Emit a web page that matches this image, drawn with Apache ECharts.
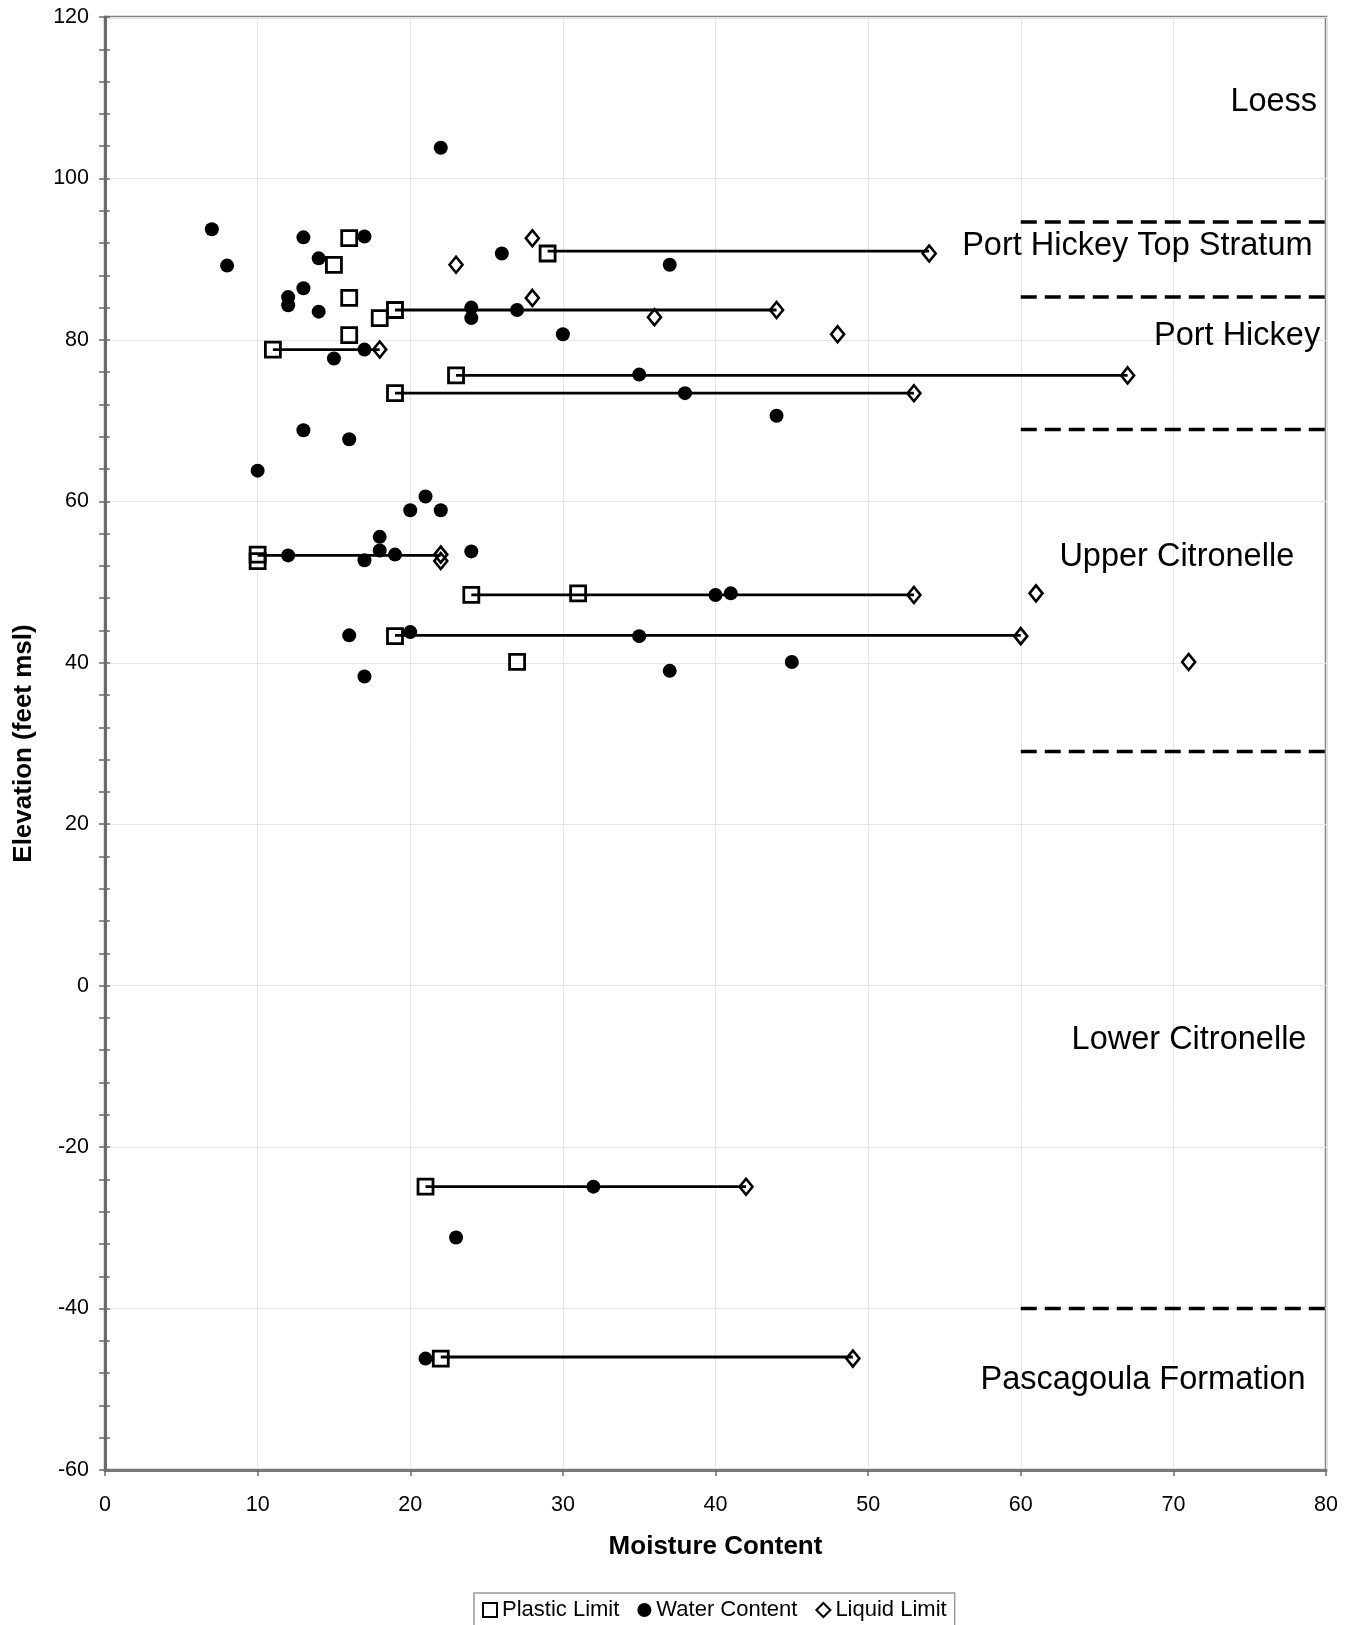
<!DOCTYPE html>
<html>
<head>
<meta charset="utf-8">
<title>Moisture Content vs Elevation</title>
<script src="https://cdn.jsdelivr.net/npm/echarts@6.0.0/dist/echarts.min.js"></script>
<style>
  html, body { margin: 0; padding: 0; background: #fff; }
  #chart { width: 1356px; height: 1625px; }
</style>
</head>
<body>
<div id="chart"></div>
<script>
// Atterberg limits and natural water content by elevation: [moisture %, elevation ft msl]
const plasticLimit = [
  [16, 92.6], [15, 89.3], [29, 90.7], [16, 85.2], [18, 82.7], [19, 83.7],
  [16, 80.6], [11, 78.8], [23, 75.6], [19, 73.4], [10, 53.4], [10, 52.6],
  [24, 48.4], [31, 48.6], [19, 43.3], [27, 40.1], [21, -24.9], [22, -46.2]
];
const waterContent = [
  [22, 103.8], [7, 93.7], [8, 89.2], [13, 92.7], [17, 92.8], [14, 90.1],
  [26, 90.7], [37, 89.3], [13, 86.4], [12, 85.3], [12, 84.3], [14, 83.5],
  [24, 84.0], [24, 82.7], [27, 83.7], [30, 80.7], [17, 78.8], [15, 77.7],
  [35, 75.7], [38, 73.4], [44, 70.6], [13, 68.8], [16, 67.7], [10, 63.8],
  [21, 60.6], [20, 58.9], [22, 58.9], [18, 55.6], [18, 53.9], [12, 53.3],
  [19, 53.4], [24, 53.8], [17, 52.7], [40, 48.4], [41, 48.6], [16, 43.4],
  [20, 43.8], [35, 43.3], [37, 39.0], [45, 40.1], [17, 38.3], [32, -24.9],
  [23, -31.2], [21, -46.2]
];
const liquidLimit = [
  [28, 92.6], [23, 89.3], [54, 90.7], [28, 85.2], [44, 83.7], [36, 82.8],
  [48, 80.7], [18, 78.8], [67, 75.6], [53, 73.4], [22, 53.4], [22, 52.6],
  [53, 48.4], [61, 48.6], [60, 43.3], [71, 40.1], [42, -24.9], [49, -46.2]
];
// Plasticity range bars: [plastic limit, liquid limit, elevation]
const limitRanges = [
  [29, 54, 91.0], [19, 44, 83.7], [11, 18, 78.8], [23, 67, 75.6],
  [19, 53, 73.4], [10, 22, 53.3], [24, 53, 48.4], [19, 60, 43.4],
  [21, 42, -24.9], [22, 49, -46.0]
];
// Stratum boundaries (elevation) drawn between these moisture values
const boundaryElevations = [94.6, 85.3, 68.9, 29.0, -40.0];
const boundarySpan = [60, 80];
// Stratum names with the point their text ends at: [moisture, elevation, name]
const strata = [
  [79.45, 109.45, 'Loess'],
  [79.15, 91.6, 'Port Hickey Top Stratum'],
  [79.65, 80.45, 'Port Hickey'],
  [77.95, 53.15, 'Upper Citronelle'],
  [78.75, -6.75, 'Lower Citronelle'],
  [78.7, -48.9, 'Pascagoula Formation']
];
const xTicks = { min: 0, max: 80, interval: 10 };
const yTicks = { min: -60, max: 120, interval: 20 };

const FONT = '"Liberation Sans", Arial, sans-serif';
const chart = echarts.init(document.getElementById('chart'), null, { renderer: 'canvas' });

const series = [
  {
    name: 'Plastic Limit', type: 'scatter', data: plasticLimit,
    symbol: 'rect', symbolSize: 15, z: 3,
    itemStyle: { color: 'rgba(255,255,255,0)', borderColor: '#000', borderWidth: 2.8, opacity: 1 }
  },
  {
    name: 'Water Content', type: 'scatter', data: waterContent,
    symbol: 'circle', symbolSize: 14, z: 3,
    itemStyle: { color: '#000', opacity: 1 }
  },
  {
    name: 'Liquid Limit', type: 'scatter', data: liquidLimit,
    symbol: 'diamond', symbolSize: [13, 16], z: 3,
    itemStyle: { color: 'rgba(255,255,255,0)', borderColor: '#000', borderWidth: 2.6, opacity: 1 }
  }
];

limitRanges.forEach(function (r, i) {
  series.push({
    name: 'range' + i, type: 'line', z: 4,
    data: [[r[0], r[2]], [r[1], r[2]]],
    symbol: 'none', silent: true,
    lineStyle: { color: '#000', width: 2.8, opacity: 1 }
  });
});

boundaryElevations.forEach(function (e, i) {
  series.push({
    name: 'boundary' + i, type: 'line', z: 2,
    data: [[boundarySpan[0], e], [boundarySpan[1], e]],
    symbol: 'none', silent: true,
    lineStyle: { color: '#000', width: 3.5, type: [16, 8], opacity: 1 }
  });
});

series.push({
  name: 'strata', type: 'scatter', z: 5, silent: true,
  data: strata, symbolSize: 1,
  itemStyle: { color: 'rgba(0,0,0,0)', opacity: 1 },
  label: {
    show: true, position: 'left', distance: 0,
    formatter: function (p) { return p.value[2]; },
    fontFamily: FONT, fontSize: 32.5, color: '#000', opacity: 1
  }
});

const option = {
  backgroundColor: '#fff',
  animation: false,
  textStyle: { fontFamily: FONT },
  grid: {
    left: 105, right: 30, top: 17, bottom: 155,
    show: true, borderColor: '#808080', borderWidth: 2.5, backgroundColor: 'transparent'
  },
  legend: {
    data: [
      { name: 'Plastic Limit', icon: 'rect' },
      { name: 'Water Content', icon: 'circle' },
      { name: 'Liquid Limit', icon: 'diamond' }
    ],
    left: 474, top: 1593,
    itemWidth: 14, itemHeight: 14, itemGap: 18,
    padding: [6, 8, 10, 8],
    borderColor: '#999', borderWidth: 1.5,
    textStyle: { fontFamily: FONT, fontSize: 22, color: '#000' }
  },
  xAxis: {
    type: 'value', min: xTicks.min, max: xTicks.max, interval: xTicks.interval,
    name: 'Moisture Content', nameLocation: 'middle', nameGap: 64,
    nameTextStyle: { fontFamily: FONT, fontSize: 26, fontWeight: 'bold', color: '#000' },
    axisLine: { show: true, onZero: false, lineStyle: { color: '#7a7a7a', width: 3 } },
    axisTick: { show: true, length: 6, lineStyle: { color: '#6b6b6b', width: 1.5 } },
    axisLabel: { fontFamily: FONT, fontSize: 21.5, color: '#000', margin: 24 },
    splitLine: { show: true, lineStyle: { color: '#e6e6e6', width: 1 } }
  },
  yAxis: [
    {
      type: 'value', min: yTicks.min, max: yTicks.max, interval: yTicks.interval,
      name: 'Elevation (feet msl)', nameLocation: 'middle', nameGap: 68,
      nameTextStyle: { fontFamily: FONT, fontSize: 26, fontWeight: 'bold', color: '#000' },
      axisLine: { show: true, onZero: false, lineStyle: { color: '#6b6b6b', width: 3 } },
      axisTick: { show: true, length: 6, lineStyle: { color: '#6b6b6b', width: 1.5 } },
      minorTick: { show: true, splitNumber: 5, length: 6, lineStyle: { color: '#6b6b6b', width: 1.5 } },
      axisLabel: { fontFamily: FONT, fontSize: 21.5, color: '#000', margin: 16 },
      splitLine: { show: true, lineStyle: { color: '#e6e6e6', width: 1 } }
    },
    {
      type: 'value', min: yTicks.min, max: yTicks.max, interval: yTicks.interval,
      position: 'left',
      axisLine: { show: false },
      axisTick: { show: true, inside: true, length: 5, lineStyle: { color: '#6b6b6b', width: 1.5 } },
      minorTick: { show: true, splitNumber: 5, length: 5, lineStyle: { color: '#6b6b6b', width: 1.5 } },
      axisLabel: { show: false },
      splitLine: { show: false }
    }
  ],
  series: series
};

chart.setOption(option);
</script>
</body>
</html>
